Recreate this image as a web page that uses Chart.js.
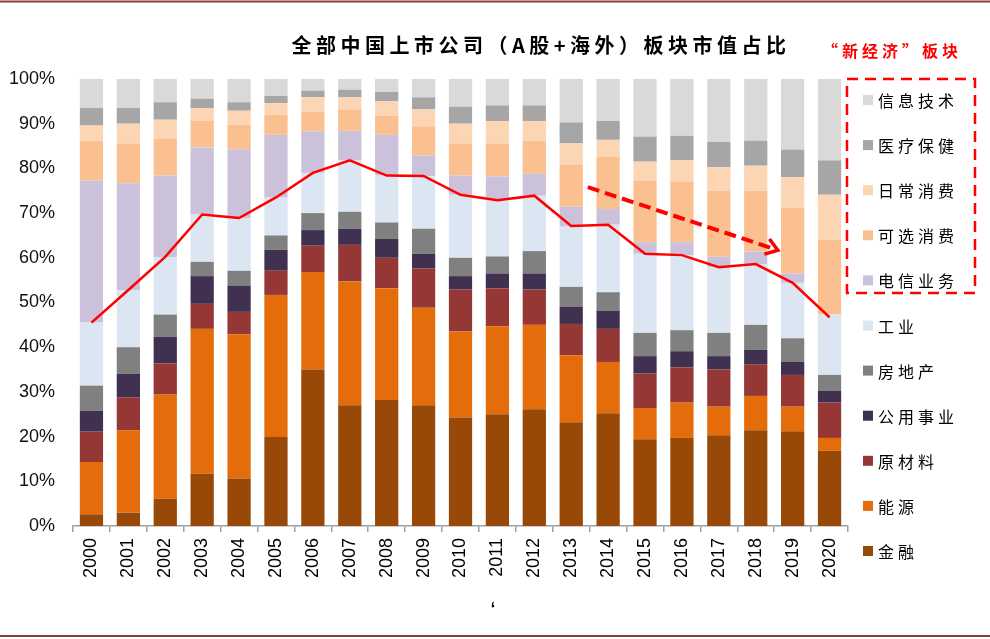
<!DOCTYPE html>
<html>
<head>
<meta charset="utf-8">
<script src="https://cdn.jsdelivr.net/npm/chart.js@4.4.1/dist/chart.umd.min.js"></script>
<style>
  html, body { margin: 0; padding: 0; background: #fff; }
  canvas { display: block; }
</style>
</head>
<body>
<canvas id="chart" width="990" height="639"></canvas>
<script>
// years on the x axis
const years = ["2000","2001","2002","2003","2004","2005","2006","2007","2008","2009","2010",
  "2011","2012","2013","2014","2015","2016","2017","2018","2019","2020"];

// sector shares (%), bottom of the stack first
const finance     = [2.6, 3.0, 6.1, 11.7, 10.6, 19.9, 35.0, 27.0, 28.2, 27.0, 24.3, 25.0, 26.1, 23.2, 25.2, 19.4, 19.7, 20.3, 21.4, 21.2, 16.8];
const energy      = [11.7, 18.4, 23.3, 32.4, 32.3, 31.8, 21.8, 27.7, 25.0, 21.8, 19.2, 19.7, 18.9, 15.0, 11.5, 7.0, 7.9, 6.4, 7.7, 5.5, 2.9];
const materials   = [6.8, 7.4, 7.0, 5.6, 5.0, 5.4, 5.9, 8.2, 6.8, 8.8, 9.4, 8.5, 7.9, 7.0, 7.4, 7.7, 7.9, 8.3, 7.1, 7.1, 7.9];
const utilities   = [4.7, 5.3, 5.9, 6.2, 5.9, 4.7, 3.5, 3.6, 4.2, 3.3, 3.0, 3.3, 3.6, 3.9, 4.1, 3.9, 3.6, 3.0, 3.2, 2.9, 2.6];
const realEstate  = [5.6, 5.9, 5.0, 3.2, 3.3, 3.2, 3.8, 3.8, 3.7, 5.6, 4.1, 3.8, 5.0, 4.4, 4.1, 5.2, 4.7, 5.2, 5.6, 5.3, 3.6];
const industrials = [14.1, 12.8, 12.9, 10.6, 11.7, 8.5, 9.0, 11.5, 10.5, 11.8, 14.1, 12.7, 12.4, 13.5, 15.1, 17.7, 16.8, 14.7, 13.6, 12.4, 13.5];
const telecom     = [31.8, 23.9, 18.2, 15.0, 15.5, 14.0, 9.3, 6.6, 9.1, 4.6, 4.3, 5.2, 4.9, 4.4, 3.5, 2.6, 2.9, 2.4, 2.8, 2.1, 0.0];
const consDisc    = [8.9, 8.9, 8.3, 5.9, 5.4, 4.5, 4.4, 4.8, 4.3, 6.5, 7.2, 7.4, 7.4, 9.4, 11.7, 13.8, 13.5, 14.7, 13.6, 14.7, 16.7];
const consStaples = [3.4, 4.4, 4.2, 2.9, 3.2, 2.6, 3.2, 2.7, 3.2, 3.8, 4.4, 5.0, 4.4, 4.8, 3.8, 4.2, 4.8, 5.3, 5.6, 6.8, 10.1];
const healthcare  = [3.9, 3.5, 3.9, 2.1, 1.9, 1.6, 1.5, 1.7, 2.1, 2.7, 3.8, 3.5, 3.5, 4.7, 4.2, 5.6, 5.5, 5.6, 5.6, 6.2, 7.7];
const infoTech    = [6.5, 6.5, 5.2, 4.4, 5.2, 3.8, 2.6, 2.4, 2.9, 4.1, 6.2, 5.9, 5.9, 9.7, 9.4, 12.9, 12.7, 14.1, 13.8, 15.8, 18.2];

// red line: combined share of the traditional sectors (%)
const oldEconomy  = [45.5, 52.8, 60.2, 69.7, 68.9, 73.5, 79.0, 81.8, 78.4, 78.3, 74.1, 72.9, 73.9, 67.1, 67.4, 60.9, 60.6, 57.9, 58.6, 54.4, 46.7];

const sectorNames = ["金融","能源","原材料","公用事业","房地产","工业","电信业务","可选消费","日常消费","医疗保健","信息技术"];
const sectorData = [finance, energy, materials, utilities, realEstate, industrials, telecom, consDisc, consStaples, healthcare, infoTech];
const sectorColors = ["#984807","#E46C0A","#953735","#403151","#808080","#DCE6F2","#CCC1DA","#FAC090","#FCD5B5","#A6A6A6","#D9D9D9"];
const yTicks = [0, 10, 20, 30, 40, 50, 60, 70, 80, 90, 100];

const TITLE = "全部中国上市公司（A股+海外）板块市值占比";
const NEW_ECON = "“新经济”板块";
const RED = "#FF0000";
const CJK = '"Noto Sans CJK SC", "Noto Sans", sans-serif';
const LATIN = '"Liberation Sans", Arial, sans-serif';

const barSets = sectorNames.map((name, i) => ({
  type: "bar",
  label: name,
  data: sectorData[i],
  backgroundColor: sectorColors[i],
  borderWidth: 0,
  barPercentage: 0.63,
  categoryPercentage: 1.0,
  yAxisID: "y",
  order: 2
}));

const lineSet = {
  type: "line",
  label: "传统板块",
  data: oldEconomy,
  borderColor: RED,
  borderWidth: 2.5,
  pointRadius: 0,
  tension: 0,
  fill: false,
  yAxisID: "y2",
  order: 0
};

// decorations: title, custom legend, dashed box, dashed trend arrow, frame
const decor = {
  id: "decor",
  beforeDraw(chart) {
    const ctx = chart.ctx;
    ctx.save();
    ctx.fillStyle = "#fff";
    ctx.fillRect(0, 0, chart.width, chart.height);
    ctx.restore();
  },
  afterDraw(chart) {
    const ctx = chart.ctx;
    const xs = chart.scales.x, ys = chart.scales.y;
    ctx.save();

    // frame lines top and bottom
    ctx.strokeStyle = "#8E3B3B";
    ctx.lineWidth = 2;
    ctx.beginPath();
    ctx.moveTo(0, 1.5); ctx.lineTo(chart.width, 1.5);
    ctx.moveTo(0, 636); ctx.lineTo(chart.width, 636);
    ctx.stroke();

    // title
    ctx.fillStyle = "#000";
    ctx.font = "bold 20px " + CJK;
    ctx.letterSpacing = "4.5px";
    ctx.textAlign = "center";
    ctx.textBaseline = "middle";
    ctx.fillText(TITLE, 541, 45);

    // "new economy" label
    ctx.fillStyle = RED;
    ctx.font = "bold 16px " + CJK;
    ctx.letterSpacing = "4px";
    ctx.fillText(NEW_ECON, 892, 51);

    // legend, top item first
    ctx.textAlign = "left";
    ctx.font = "16px " + CJK;
    ctx.letterSpacing = "4px";
    for (let k = 0; k < sectorNames.length; k++) {
      const i = sectorNames.length - 1 - k;
      const cy = 100 + k * 45.1;
      ctx.fillStyle = sectorColors[i];
      ctx.fillRect(863, cy - 5, 10, 10);
      ctx.fillStyle = "#000";
      ctx.fillText(sectorNames[i], 878, cy + 1);
    }
    ctx.letterSpacing = "0px";

    // dashed box around the new-economy legend items
    ctx.strokeStyle = RED;
    ctx.lineWidth = 2.5;
    ctx.setLineDash([11, 7]);
    ctx.strokeRect(847, 79, 128, 214);

    // dashed trend arrow
    const x0 = xs.getPixelForValue(13.45), y0 = ys.getPixelForValue(75.8);
    const x1 = xs.getPixelForValue(18.6), y1 = ys.getPixelForValue(61.7);
    ctx.lineWidth = 4;
    ctx.setLineDash([12, 6]);
    ctx.beginPath();
    ctx.moveTo(x0, y0); ctx.lineTo(x1 - 3, y1 - 1);
    ctx.stroke();
    ctx.setLineDash([]);
    const ang = Math.atan2(y1 - y0, x1 - x0);
    ctx.lineWidth = 3.5;
    ctx.beginPath();
    ctx.moveTo(x1 - 14 * Math.cos(ang - 0.6), y1 - 14 * Math.sin(ang - 0.6));
    ctx.lineTo(x1, y1);
    ctx.lineTo(x1 - 14 * Math.cos(ang + 0.6), y1 - 14 * Math.sin(ang + 0.6));
    ctx.stroke();

    // stray mark below the axis
    ctx.fillStyle = "#000";
    ctx.font = "bold 16px " + LATIN;
    ctx.textAlign = "center";
    ctx.fillText("‘", 493, 610);

    ctx.restore();
  }
};

new Chart(document.getElementById("chart"), {
  data: { labels: years, datasets: [...barSets, lineSet] },
  options: {
    responsive: false,
    animation: false,
    devicePixelRatio: 1,
    layout: { padding: { top: 79, right: 142, bottom: 0, left: 0 } },
    plugins: { legend: { display: false }, tooltip: { enabled: false } },
    scales: {
      x: {
        stacked: true,
        offset: true,
        afterFit: s => { s.height = 113; },
        grid: { display: true, drawOnChartArea: false, drawTicks: true, tickLength: 6, offset: true, color: "#A0A0A0", lineWidth: 1.5 },
        border: { display: true, color: "#A0A0A0", width: 1.5 },
        ticks: { minRotation: 90, maxRotation: 90, padding: 6, color: "#000", font: { family: LATIN, size: 18 } }
      },
      y: {
        stacked: true,
        min: 0,
        max: 100,
        afterFit: s => { s.width = 73; },
        afterBuildTicks: s => { s.ticks = yTicks.map(v => ({ value: v })); },
        grid: { display: false, drawTicks: false },
        border: { display: false },
        ticks: { padding: 18, color: "#111", font: { family: LATIN, size: 18 }, callback: v => v + "%" }
      },
      y2: {
        display: false,
        stacked: false,
        min: 0,
        max: 100
      }
    }
  },
  plugins: [decor]
});
</script>
</body>
</html>
